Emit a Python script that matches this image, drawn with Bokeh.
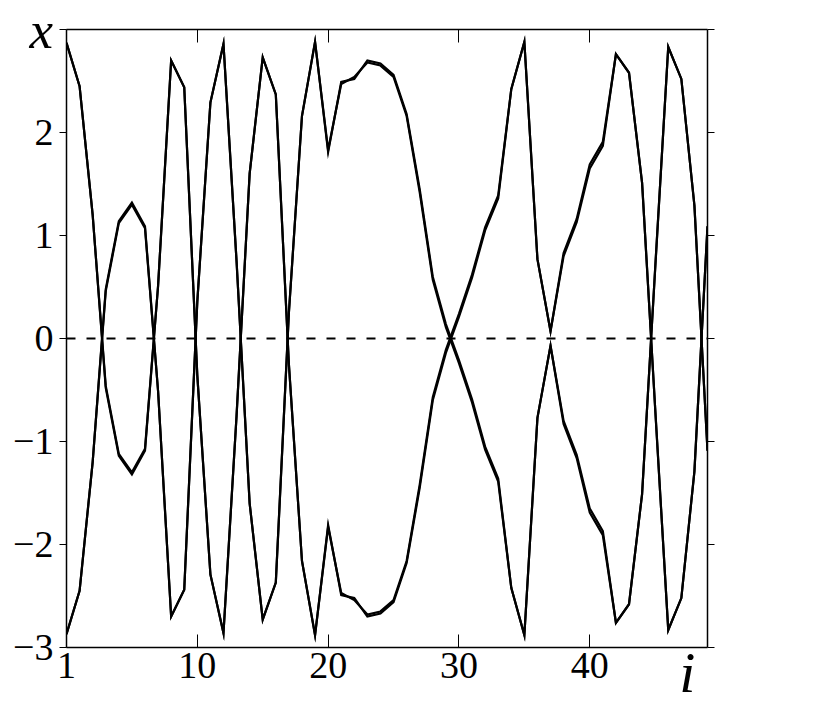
from bokeh.plotting import figure
from bokeh.models import LinearAxis, FixedTicker, Range1d, Span
from bokeh.embed import file_html
from bokeh.resources import INLINE

# ---- data ----
idx = list(range(50))
sol_a = [2.87, 2.45, 1.20, -0.48, -1.14, -1.32, -1.09, 0.51, 2.70, 2.44,
         -0.36, -2.29, -2.86, -0.75, 1.60, 2.73, 2.37, -0.25, -2.16, -2.88,
         -1.81, -2.49, -2.52, -2.70, -2.67, -2.56, -2.18, -1.45, -0.60, -0.14,
         0.21, 0.59, 1.05, 1.36, 2.42, 2.88, 0.77, 0.07, 0.80, 1.13,
         1.65, 1.87, 2.76, 2.58, 1.51, -0.68, -2.83, -2.52, -1.29, 1.09]
sol_b = [2.87, 2.45, 1.20, -0.46, -1.12, -1.30, -1.07, 0.51, 2.70, 2.44,
         -0.36, -2.29, -2.86, -0.75, 1.60, 2.73, 2.37, -0.25, -2.16, -2.88,
         -1.83, -2.47, -2.54, -2.68, -2.65, -2.54, -2.16, -1.42, -0.57, -0.11,
         0.24, 0.62, 1.08, 1.39, 2.42, 2.88, 0.77, 0.07, 0.83, 1.16,
         1.69, 1.91, 2.76, 2.58, 1.51, -0.68, -2.83, -2.52, -1.29, 1.09]
neg_a = [-v for v in sol_a]
neg_b = [-v for v in sol_b]

x_ticks = [0, 10, 20, 30, 40]
x_tick_labels = ["1", "10", "20", "30", "40"]
y_ticks = [-3, -2, -1, 0, 1, 2, 3]
y_tick_labels = ["\u22123", "\u22122", "\u22121", "0", "1", "2", ""]
x_name = "x"
i_name = "i"

FONT = "Liberation Serif"

has_align = "axis_label_align" in LinearAxis.properties()
if not has_align:
    x_ticks = x_ticks + [49]
    x_tick_labels = x_tick_labels + [i_name]
    y_tick_labels = y_tick_labels[:-1] + [x_name]

p = figure(width=816, height=713, output_backend="svg", toolbar_location=None,
           x_range=Range1d(0, 49), y_range=Range1d(-3, 3),
           x_axis_location=None, y_axis_location=None,
           min_border_left=66, min_border_right=109,
           min_border_top=29, min_border_bottom=66)
p.outline_line_color = None
p.xgrid.visible = False
p.ygrid.visible = False
p.background_fill_color = "white"
p.border_fill_color = "white"

# axes
bottom = LinearAxis(ticker=FixedTicker(ticks=x_ticks),
                    major_label_overrides={t: s for t, s in zip(x_ticks, x_tick_labels)})
top = LinearAxis(ticker=FixedTicker(ticks=x_ticks))
left = LinearAxis(ticker=FixedTicker(ticks=y_ticks),
                  major_label_overrides={t: s for t, s in zip(y_ticks, y_tick_labels)})
right = LinearAxis(ticker=FixedTicker(ticks=y_ticks))

for ax in (bottom, top, left, right):
    ax.axis_line_color = "black"
    ax.axis_line_width = 1.5
    ax.major_tick_line_color = "black"
    ax.major_tick_line_width = 1
    ax.minor_tick_line_color = None
    ax.major_label_text_font = FONT
    ax.major_label_text_font_size = "38px"
    ax.major_label_text_color = "black"

bottom.major_tick_in = 13
bottom.major_tick_out = 0
bottom.major_label_standoff = 5
top.major_tick_in = 13
top.major_tick_out = 0
top.major_label_text_font_size = "8px"
top.major_label_text_color = None
left.major_tick_in = 0
left.major_tick_out = 7
left.major_label_standoff = 6
right.major_tick_in = 0
right.major_tick_out = 7
right.major_label_text_font_size = "8px"
right.major_label_text_color = None

if has_align:
    # "x" sits at the top end of the left axis, "i" at the right end of the bottom axis
    left.axis_label = x_name
    bottom.axis_label = i_name + "\u00a0\u00a0\u2009"
    for ax in (left, bottom):
        ax.axis_label_align = "end"
        ax.axis_label_orientation = "horizontal"
        ax.axis_label_text_font = FONT
        ax.axis_label_text_font_style = "italic"
        ax.axis_label_text_color = "black"
    left.axis_label_text_font_size = "53px"
    bottom.axis_label_text_font_size = "58px"
    left.axis_label_standoff = -43
    bottom.axis_label_standoff = -41

p.add_layout(bottom, "below")
p.add_layout(top, "above")
p.add_layout(left, "left")
p.add_layout(right, "right")

# zero dashed line
p.add_layout(Span(location=0, dimension="width", line_color="black",
                  line_width=2, line_dash="9 11"))

# solution curves
for ys in (sol_a, neg_a, sol_b, neg_b):
    p.line(idx, ys, line_color="black", line_width=2.2, line_join="miter")

open("out.html", "w").write(file_html(p, INLINE))
